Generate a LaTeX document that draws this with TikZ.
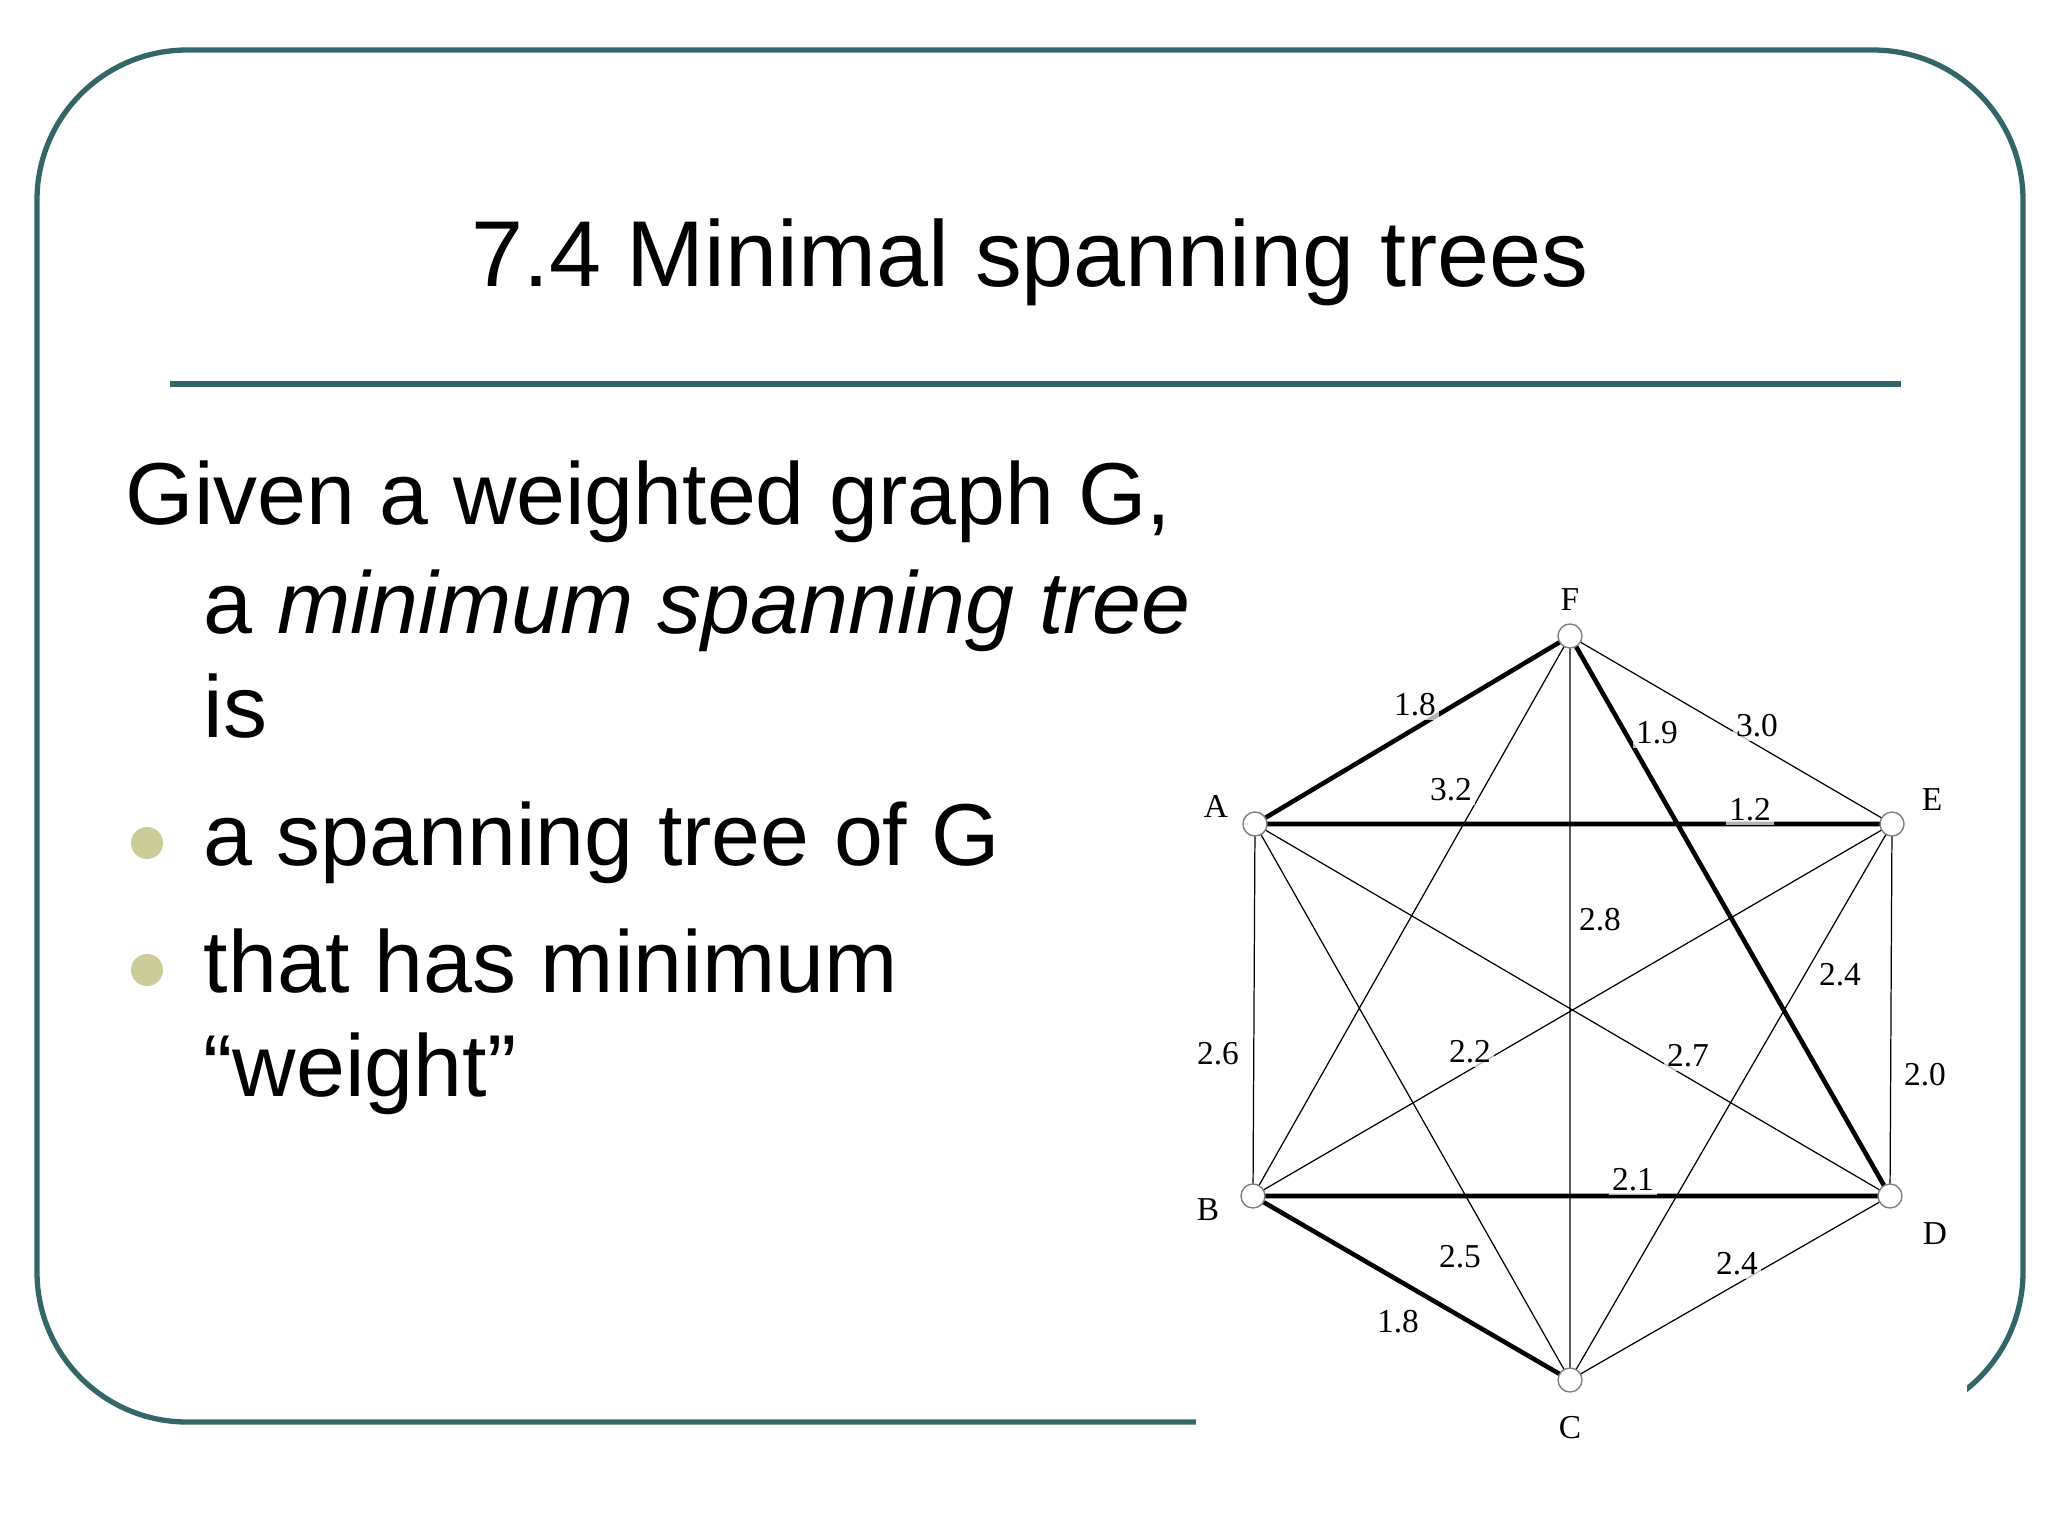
\documentclass[tikz,border=0pt]{standalone}
\usepackage{fontspec}
\setmainfont{Liberation Sans}
\newfontfamily\gfont{Liberation Serif}
\definecolor{teal1}{HTML}{336666}
\definecolor{bul}{HTML}{CCCC99}
\begin{document}
\begin{tikzpicture}[x=0.01cm,y=-0.01cm,
  vx/.style={circle,draw=gray,fill=white,minimum size=0.24cm,inner sep=0pt},
  wl/.style={font=\gfont\fontsize{9.5}{10}\selectfont,fill=white,inner sep=1pt,fill opacity=0.7,text opacity=1},
  nl/.style={font=\gfont\fontsize{9.5}{10}\selectfont},
  thin1/.style={line width=0.35pt},
  thick1/.style={line width=1.3pt},
  body/.style={anchor=base west,inner sep=0pt,font=\fontsize{25}{28}\selectfont},
  bulletdot/.style={circle,fill=bul,minimum size=0.32cm,inner sep=0pt}]
\useasboundingbox (0,0) rectangle (2048,1536);
\fill[white] (0,0) rectangle (2048,1536);
\draw[teal1,line width=1.5pt,rounded corners=1.5cm] (37,50) rectangle (2023,1422);
\fill[white] (1196,583) rectangle (1967,1536);
\draw[teal1,line width=1.9pt] (170,384) -- (1901,384);
\node[font=\fontsize{26.6}{30}\selectfont] (title) at (1030,262) {7.4 Minimal spanning trees};
\node[body] (t1) at (125,524) {Given a weighted graph G,};
\node[body] (t2) at (203,633) {a \textit{minimum spanning tree}};
\node[body] (t3) at (203,737) {is};
\node[body] (t4) at (203,865) {a spanning tree of G};
\node[body] (t5) at (203,992) {that has minimum};
\node[body] (t6) at (203,1096) {“weight”};
\node[bulletdot] (b1) at (147,843) {};
\node[bulletdot] (b2) at (147,970) {};
% graph
\coordinate (F) at (1570,636);
\coordinate (A) at (1255,824);
\coordinate (E) at (1892,824);
\coordinate (B) at (1253,1196);
\coordinate (D) at (1890,1196);
\coordinate (C) at (1570,1380);
\draw[thin1] (F)--(E) (F)--(C) (F)--(B) (A)--(B) (A)--(C) (A)--(D) (E)--(B) (E)--(C) (E)--(D) (C)--(D);
\draw[thick1] (A)--(F) (A)--(E) (F)--(D) (B)--(D) (B)--(C);
\foreach \n in {F,A,E,B,D,C} \node[vx] (v\n) at (\n) {};
\node[nl] (lF) at (1570,600) {F};
\node[nl] (lA) at (1216,806) {A};
\node[nl] (lE) at (1932,800) {E};
\node[nl] (lB) at (1208,1210) {B};
\node[nl] (lD) at (1935,1234) {D};
\node[nl] (lC) at (1570,1428) {C};
\node[wl] (w1) at (1415,705) {1.8};
\node[wl] (w2) at (1451,790) {3.2};
\node[wl] (w3) at (1657,733) {1.9};
\node[wl] (w4) at (1757,726) {3.0};
\node[wl] (w5) at (1750,810) {1.2};
\node[wl] (w6) at (1600,920) {2.8};
\node[wl] (w7) at (1840,975) {2.4};
\node[wl] (w8) at (1218,1054) {2.6};
\node[wl] (w9) at (1470,1052) {2.2};
\node[wl] (w10) at (1688,1056) {2.7};
\node[wl] (w11) at (1925,1075) {2.0};
\node[wl] (w12) at (1633,1180) {2.1};
\node[wl] (w13) at (1460,1257) {2.5};
\node[wl] (w14) at (1737,1264) {2.4};
\node[wl] (w15) at (1398,1322) {1.8};
\end{tikzpicture}
\end{document}
